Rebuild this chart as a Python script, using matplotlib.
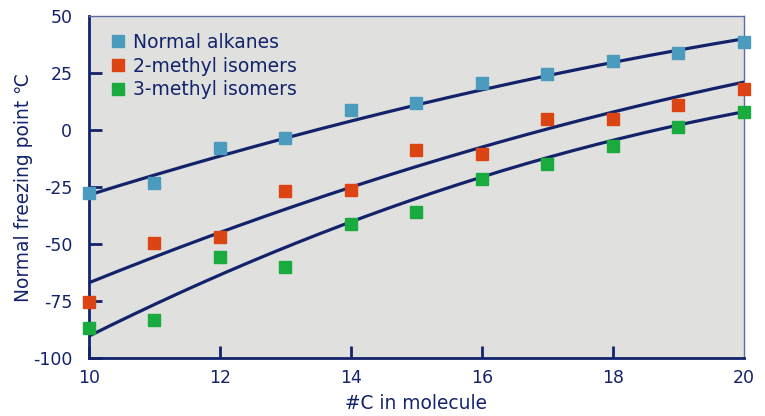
import numpy as np
import matplotlib
matplotlib.use("Agg")
import matplotlib.pyplot as plt

# data
carbons = [10, 11, 12, 13, 14, 15, 16, 17, 18, 19, 20]
normal = [-27.6, -23.3, -7.9, -3.4, 8.8, 11.8, 20.6, 24.6, 30.3, 33.8, 38.6]
methyl2 = [-75.4, -49.6, -46.9, -26.8, -26.3, -8.8, -10.5, 4.8, 4.8, 11.0, 18.0]
methyl3 = [-86.8, -83.3, -55.7, -59.9, -41.2, -35.8, -21.5, -14.8, -7.0, 1.3, 7.8]

# trend curves read at even carbon numbers
curve_x = [10, 12, 14, 16, 18, 20]
curve_normal = [-28.5, -11.4, 3.9, 17.6, 29.7, 40.0]
curve_m2 = [-67.0, -44.9, -25.1, -7.5, 7.9, 21.0]
curve_m3 = [-90.4, -63.5, -40.3, -20.6, -4.5, 8.0]

labels = ["Normal alkanes", "2-methyl isomers", "3-methyl isomers"]
colors = ["#4a9bbd", "#dc4413", "#1aab3e"]
navy = "#13236b"

plt.rcParams['font.family'] = ['DejaVu Sans']
plt.rcParams['axes.unicode_minus'] = False

fig = plt.figure(figsize=(7.65, 4.16), dpi=100)
ax = fig.add_axes([0.1163, 0.1394, 0.8562, 0.8221])
ax.set_facecolor("#e0e0de")

xs = np.linspace(10, 20, 200)
for c in [curve_normal, curve_m2, curve_m3]:
    p = np.polyfit(curve_x, c, 2)
    ax.plot(xs, np.polyval(p, xs), color=navy, lw=2.3, zorder=2)

for ys, lab, col in zip([normal, methyl2, methyl3], labels, colors):
    ax.plot(carbons, ys, 's', ms=8.6, color=col, mec=col, label=lab,
            clip_on=False, zorder=3)

ax.set_xlim(10, 20)
ax.set_ylim(-100, 50)
ax.set_xticks(range(10, 21, 2))
ax.set_yticks(range(-100, 51, 25))
ax.tick_params(direction='in', length=9, width=2, color=navy,
               labelsize=12.5, labelcolor=navy)
ax.tick_params(axis='x', pad=8)
ax.tick_params(axis='y', pad=12)

# no tick marks where the axis ends
for t in [ax.xaxis.get_major_ticks()[-1], ax.yaxis.get_major_ticks()[-1]]:
    t.tick1line.set_visible(False)

for s in ['left', 'bottom']:
    ax.spines[s].set_color(navy)
    ax.spines[s].set_linewidth(2)
for s in ['top', 'right']:
    ax.spines[s].set_color("#5d6ca3")
    ax.spines[s].set_linewidth(1)

ax.set_xlabel("#C in molecule", fontsize=13.4, color=navy, labelpad=5)
ax.set_ylabel("Normal freezing point \u2103", fontsize=13.4, color=navy, labelpad=0)

leg = ax.legend(loc='upper left', frameon=False, fontsize=13.5,
                handletextpad=0.3, labelspacing=0.25, handlelength=1.0,
                borderaxespad=0.5, bbox_to_anchor=(0.004, 1.0))
for t in leg.get_texts():
    t.set_color(navy)

fig.savefig("out.png", dpi=100)
